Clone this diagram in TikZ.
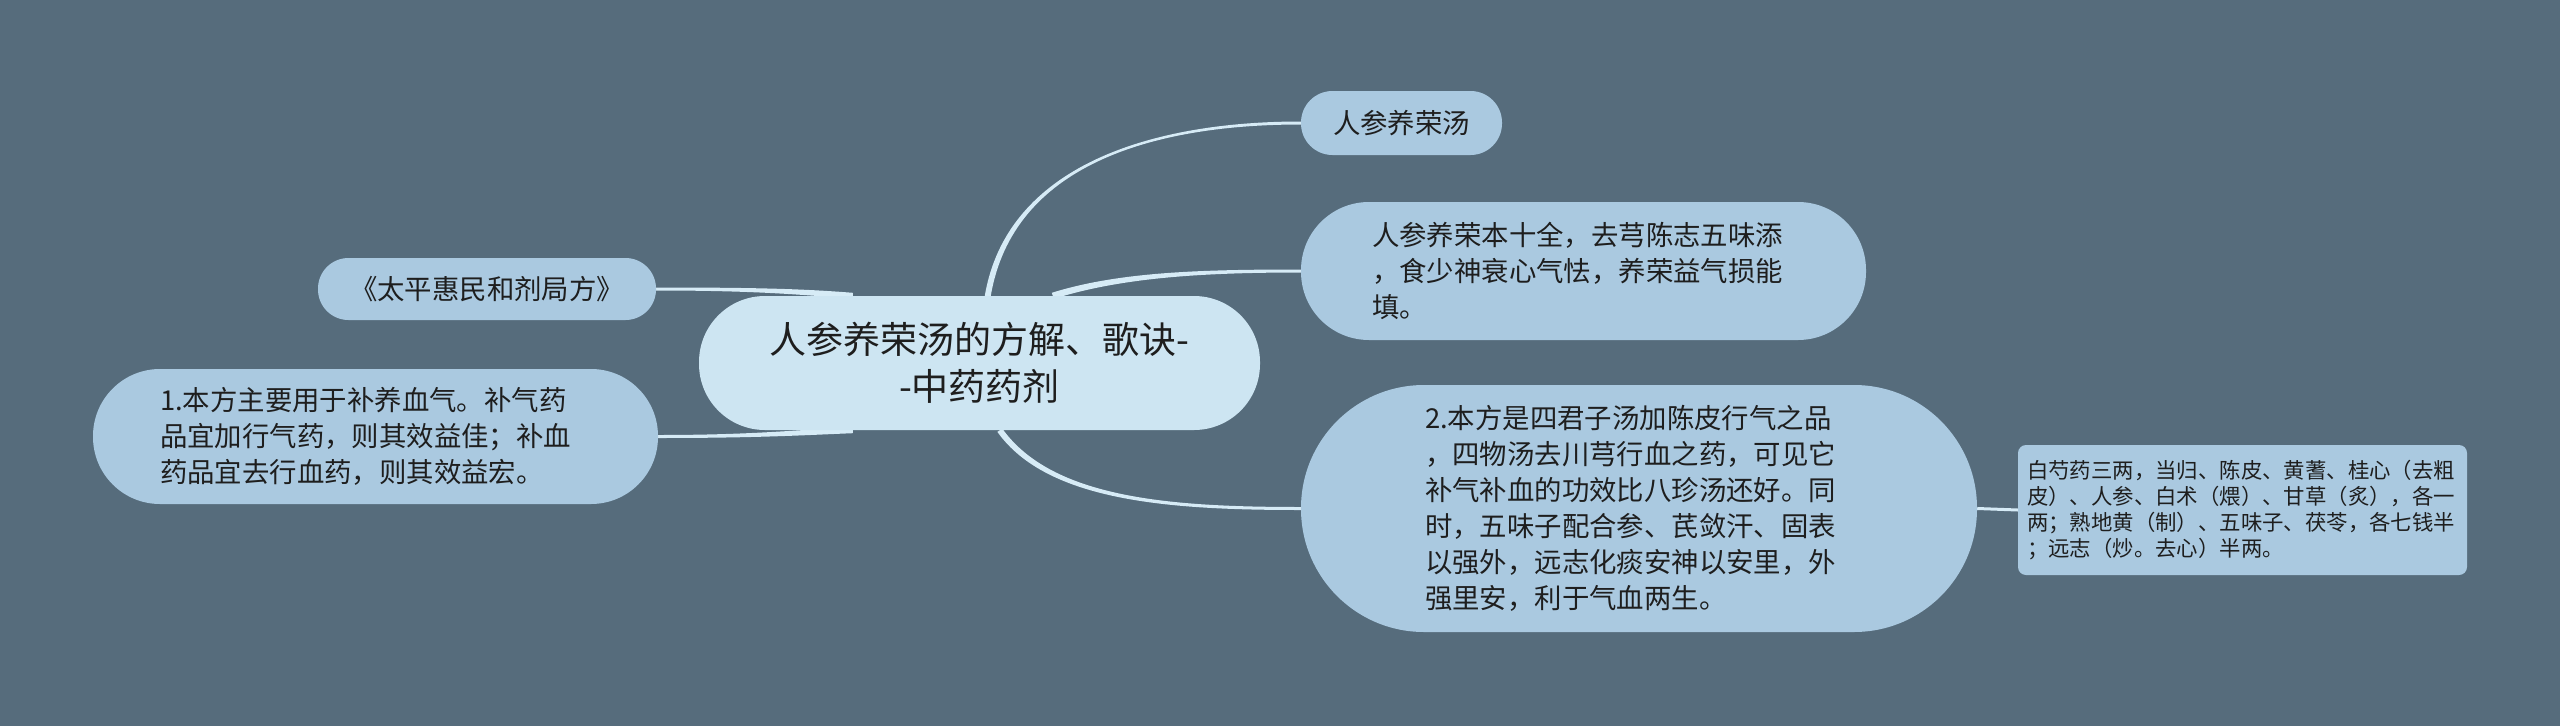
\documentclass[tikz,border=0pt]{standalone}
\usepackage{fontspec}
\setmainfont{Noto Sans CJK SC}
\usetikzlibrary{backgrounds,calc}
\definecolor{bgcol}{HTML}{566C7C}
\definecolor{rootfill}{HTML}{CDE5F2}
\definecolor{childfill}{HTML}{AAC9E0}
\definecolor{linecol}{HTML}{D6EBF6}
\definecolor{txt}{HTML}{1E1E1E}
\tikzset{
  box/.style={fill=childfill, text=txt, inner sep=0pt, align=left,
    font=\fontsize{27.4}{36}\selectfont},
  rootbox/.style={fill=rootfill, text=txt, inner sep=0pt, align=center,
    font=\fontsize{37}{47}\selectfont},
  leafbox/.style={fill=childfill, text=txt, inner sep=0pt, align=left,
    rounded corners=8pt, font=\fontsize{21.4}{26}\selectfont},
  conn/.style={fill=linecol},
}
\begin{document}
\begin{tikzpicture}[x=1pt,y=-1pt]
\useasboundingbox (0,0) rectangle (2560,726);

% nodes
\node[rootbox, minimum width=561pt, minimum height=134pt, rounded corners=66pt] (c) at (979.5,363)
  {人参养荣汤的方解、歌诀-\\-中药药剂};
\node[box, minimum width=201pt, minimum height=64pt, rounded corners=31.5pt] (n1) at (1401.5,123)
  {人参养荣汤};
\node[box, minimum width=565pt, minimum height=138pt, rounded corners=68pt, text width=423pt] (n2) at (1583.5,271)
  {人参养荣本十全，去芎陈志五味添\\，食少神衰心气怯，养荣益气损能\\填。};
\node[box, minimum width=676pt, minimum height=247pt, rounded corners=123pt, text width=428pt] (n3) at (1639,508.5)
  {2.本方是四君子汤加陈皮行气之品\\，四物汤去川芎行血之药，可见它\\补气补血的功效比八珍汤还好。同\\时，五味子配合参、芪敛汗、固表\\以强外，远志化痰安神以安里，外\\强里安，利于气血两生。};
\node[leafbox, minimum width=449pt, minimum height=130pt, text width=431pt] (lf) at (2242.5,510)
  {白芍药三两，当归、陈皮、黄蓍、桂心（去粗\\皮）、人参、白术（煨）、甘草（炙），各一\\两；熟地黄（制）、五味子、茯苓，各七钱半\\；远志（炒。去心）半两。};
\node[box, minimum width=338pt, minimum height=62pt, rounded corners=30.5pt] (l1) at (487,289)
  {《太平惠民和剂局方》};
\node[box, minimum width=565pt, minimum height=135pt, rounded corners=67pt, text width=431pt] (l2) at (375.5,436.5)
  {1.本方主要用于补养血气。补气药\\品宜加行气药，则其效益佳；补血\\药品宜去行血药，则其效益宏。};

\coordinate (a1) at ($(c.north west)+(289,0)$);
\coordinate (a2) at ($(c.north west)+(354,0)$);
\coordinate (a3) at ($(c.south west)+(301,0)$);
\coordinate (a4) at ($(c.north west)+(154,0)$);
\coordinate (a5) at ($(c.south west)+(154,0)$);

\begin{scope}[on background layer]
\fill[bgcol] (0,0) rectangle (2560,726);
% root -> n1
\fill[conn] ($(a1)+(-3,0)$) .. controls ($(a1)+(19,-130)$) and ($(n1.west)+(-150,-1.5)$) .. ($(n1.west)+(0,-1.5)$)
  -- ($(n1.west)+(0,1.5)$) .. controls ($(n1.west)+(-150,1.5)$) and ($(a1)+(25,-130)$) .. ($(a1)+(3,0)$) -- cycle;
% root -> n2
\fill[conn] ($(a2)+(-1,-3)$) .. controls ($(a2)+(66,-24)$) and ($(n2.west)+(-100,-1.5)$) .. ($(n2.west)+(0,-1.5)$)
  -- ($(n2.west)+(0,1.5)$) .. controls ($(n2.west)+(-100,1.5)$) and ($(a2)+(68,-18)$) .. ($(a2)+(1,3)$) -- cycle;
% root -> n3
\fill[conn] ($(a3)+(2.4,-1.7)$) .. controls ($(a3)+(52.4,68.3)$) and ($(n3.west)+(-130,-1.5)$) .. ($(n3.west)+(0,-1.5)$)
  -- ($(n3.west)+(0,1.5)$) .. controls ($(n3.west)+(-130,1.5)$) and ($(a3)+(47.6,71.7)$) .. ($(a3)+(-2.4,1.7)$) -- cycle;
% l1 -> root
\fill[conn] ($(l1.east)+(0,-1.5)$) .. controls ($(l1.east)+(100,-1.5)$) and ($(a4)+(-50,-7)$) .. ($(a4)+(0,-3)$)
  -- ($(a4)+(0,3)$) .. controls ($(a4)+(-50,-1)$) and ($(l1.east)+(100,1.5)$) .. ($(l1.east)+(0,1.5)$) -- cycle;
% l2 -> root
\fill[conn] ($(l2.east)+(0,-1.5)$) .. controls ($(l2.east)+(100,-1.5)$) and ($(a5)+(-50,-1)$) .. ($(a5)+(0,-3)$)
  -- ($(a5)+(0,3)$) .. controls ($(a5)+(-50,5)$) and ($(l2.east)+(100,1.5)$) .. ($(l2.east)+(0,1.5)$) -- cycle;
% n3 -> leaf
\draw[linecol, line width=3pt] (n3.east) -- (lf.west);
\end{scope}
\end{tikzpicture}
\end{document}
